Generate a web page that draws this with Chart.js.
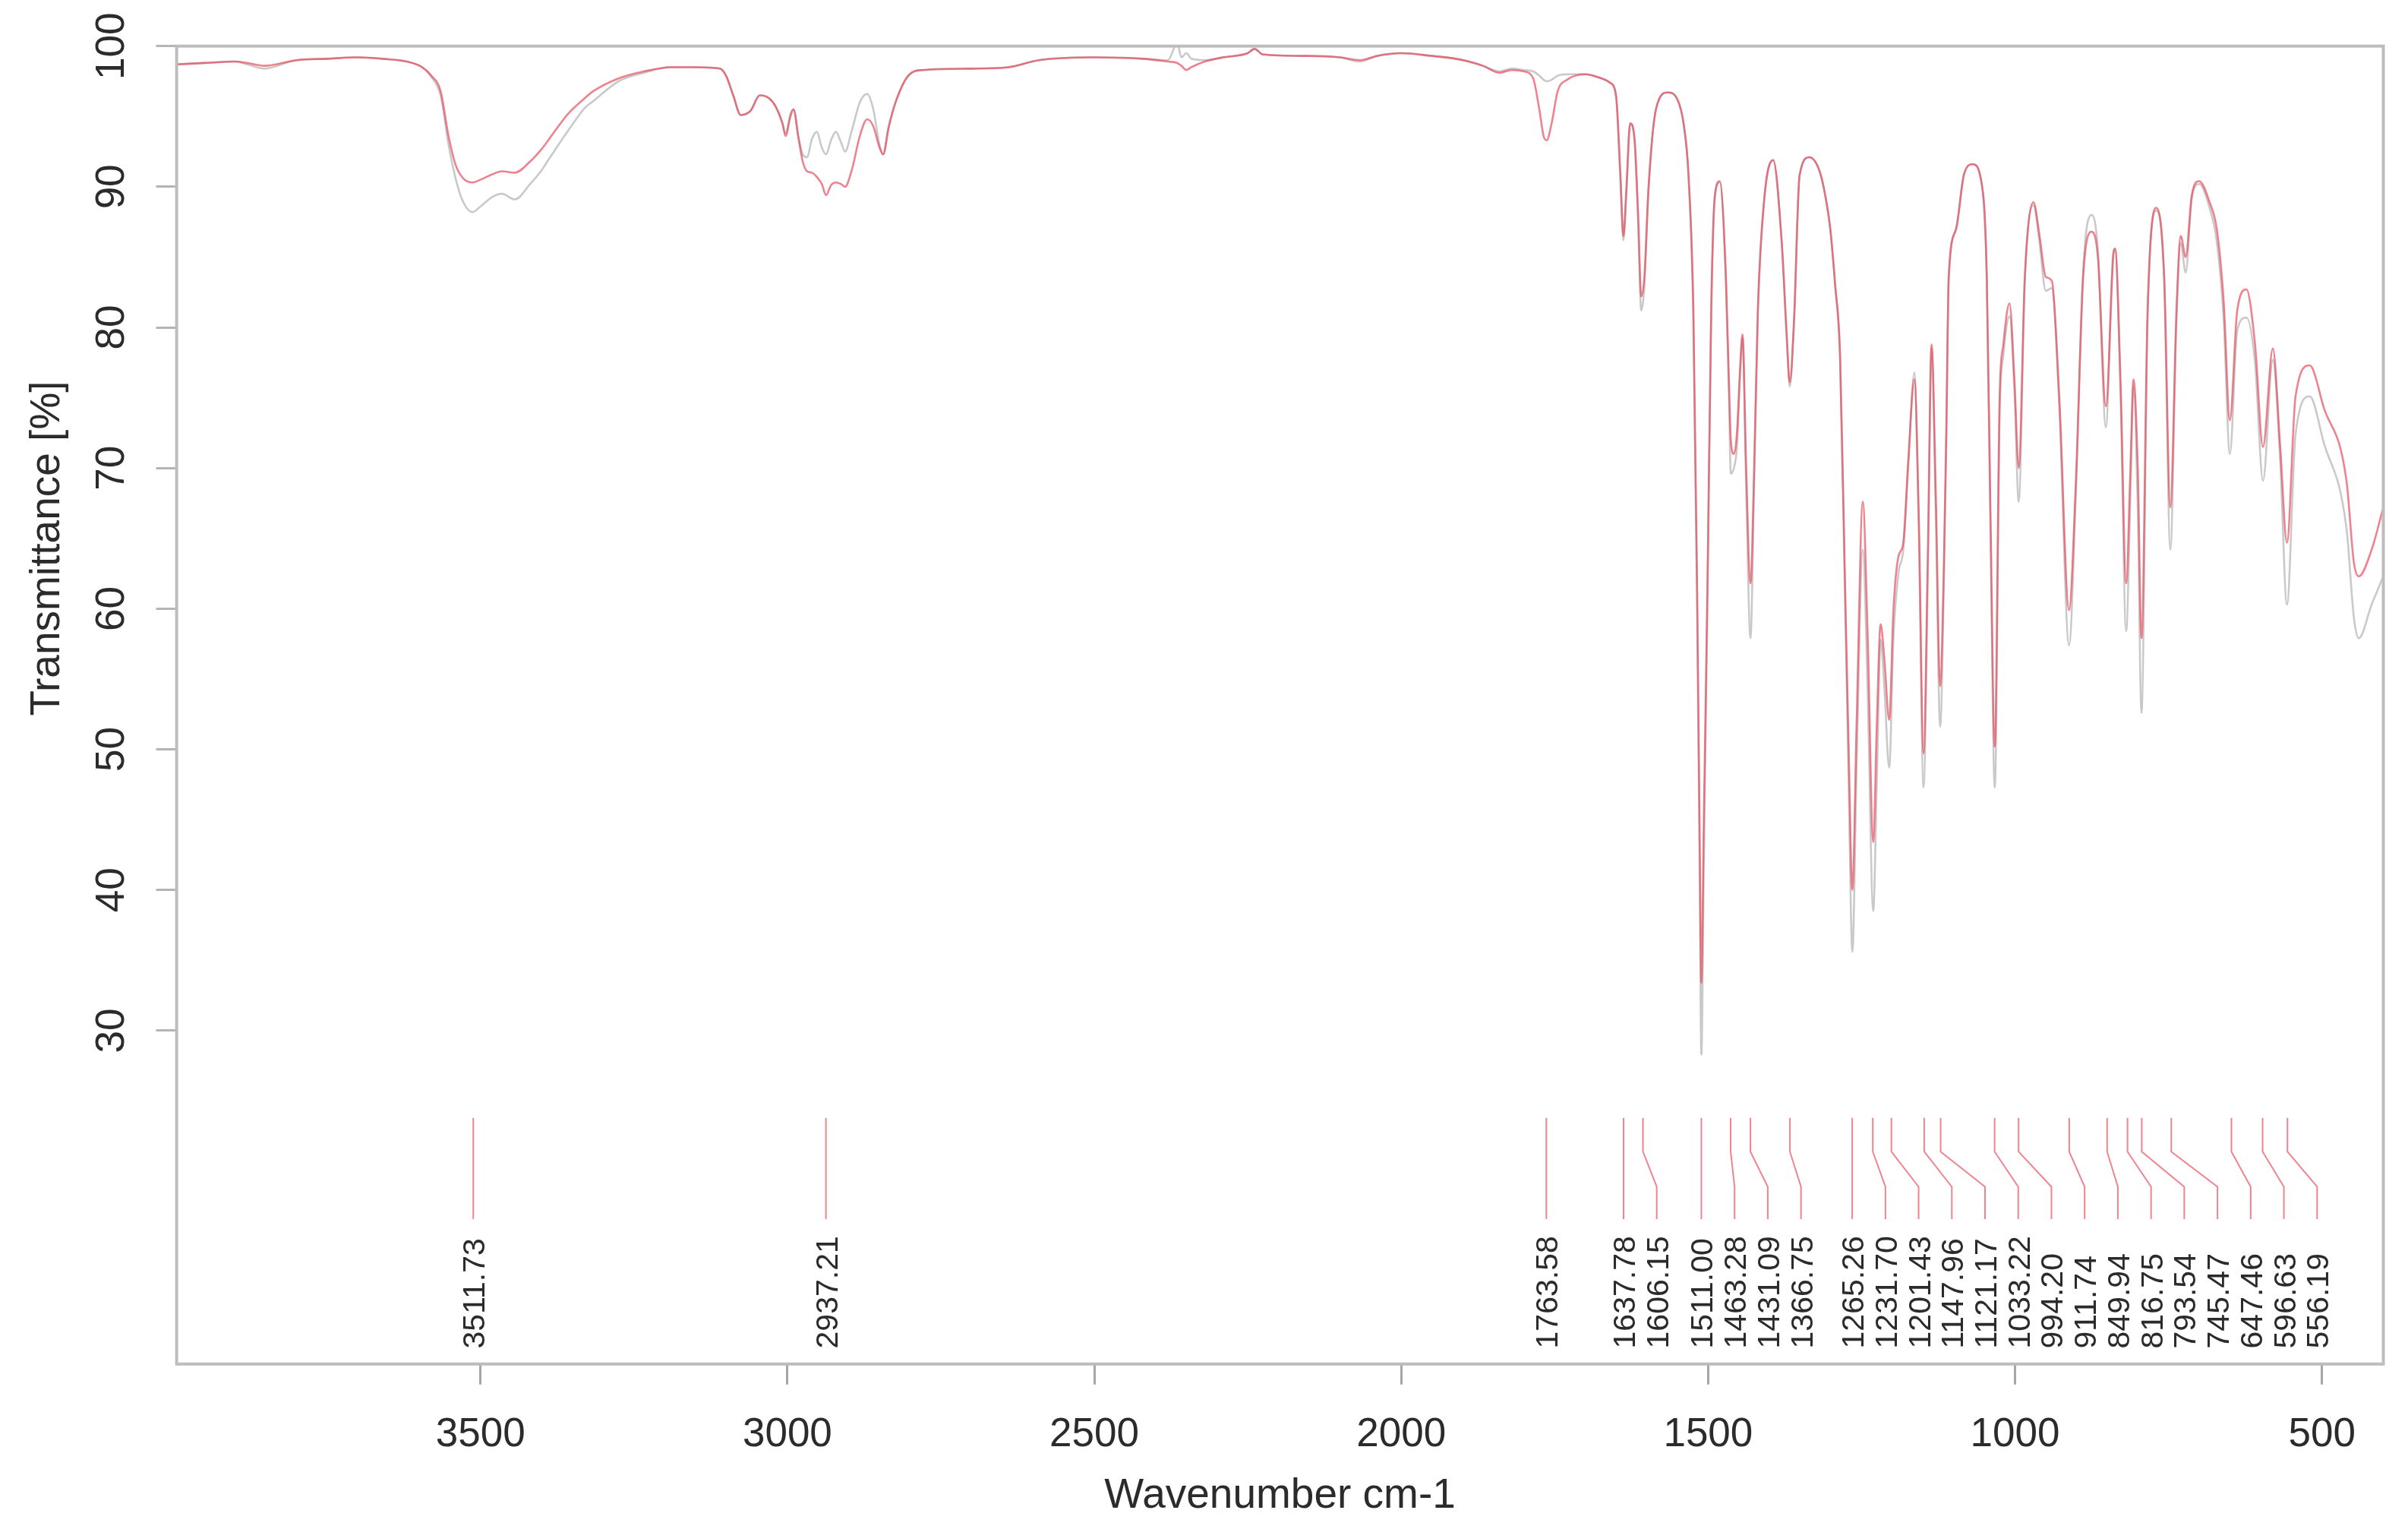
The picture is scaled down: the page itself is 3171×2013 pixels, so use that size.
<!DOCTYPE html>
<html>
<head>
<meta charset="utf-8">
<script src="https://cdn.jsdelivr.net/npm/chart.js@4"></script>
<style>
  html, body { margin: 0; padding: 0; background: #fff; }
  canvas { display: block; }
</style>
</head>
<body>
<canvas id="ir" width="3171" height="2013"></canvas>
<script>
// wavenumber grid (cm-1) with the two transmittance traces
const wavenumbers = [3995,3950,3900,3880,3852,3800,3750,3700,3660,3620,3595,3580,3565,3552,3540,3528,3513,3500,3480,3465,3444,3419,3400,3388,3357,3330,3316,3275,3234,3190,3150,3110,3100,3088,3076,3060,3045,3030,3019,3008,3003,2995,2990,2982,2975,2968,2960,2952,2944,2937,2929,2921,2913,2906,2895,2882,2870,2860,2850,2844,2835,2823,2803,2780,2700,2640,2590,2500,2420,2380,2365,2358,2350,2342,2320,2290,2250,2239,2225,2150,2100,2067,2040,2000,1950,1911,1890,1867,1840,1820,1800,1785,1775,1768,1763,1755,1745,1730,1700,1680,1660,1650,1643,1638,1633,1627,1620,1614,1609,1604,1597,1585,1566,1550,1540,1532,1524,1518,1514,1511,1507,1501,1495,1489,1481,1471,1466,1463,1458,1453,1448,1444,1438,1431,1425,1419,1408,1394,1380,1372,1367,1360,1351,1335,1320,1311,1301,1293,1285,1277,1271,1265,1258,1248,1240,1231,1225,1219,1213,1205,1198,1190,1182,1174,1164,1157,1149,1142,1136,1129,1122,1116,1112,1108,1096,1083,1069,1055,1046,1040,1033,1025,1019,1009,1001,994,984,970,960,950,940,928,912,901,889,875,865,852,840,837,828,819,812,807,800,794,784,770,757,747,737,730,722,712,700,683,671,660,650,638,623,609,596,580,568,557,543,520,497,460,448,440,419,400];

// red trace
const sampleT = [98.7,98.8,98.9,98.8,98.6,99.0,99.1,99.2,99.1,98.9,98.5,97.9,96.8,93.6,91.5,90.6,90.3,90.5,90.9,91.1,91.0,91.8,92.7,93.4,95.2,96.3,96.8,97.7,98.2,98.5,98.5,98.4,97.9,96.5,95.1,95.4,96.5,96.3,95.7,94.5,93.6,95.0,95.5,93.5,91.8,91.1,91.0,90.7,90.2,89.4,90.1,90.3,90.2,90.0,91.2,93.6,94.8,94.3,92.8,92.3,94.2,96.1,97.9,98.3,98.4,98.5,99.0,99.2,99.1,98.9,98.8,98.6,98.3,98.5,98.9,99.2,99.5,99.8,99.4,99.3,99.2,99.0,99.3,99.5,99.3,99.1,98.9,98.6,98.1,98.3,98.2,97.7,95.5,93.6,93.3,94.5,96.8,97.6,98.0,97.8,97.4,96.5,91.0,86.5,90.0,94.5,93.5,88.0,82.2,83.5,90.0,95.5,96.7,96.2,94.5,90.9,81.2,61.8,45.0,33.4,45.0,61.8,81.2,89.4,90.4,83.6,76.0,72.0,71.0,72.5,77.0,79.5,70.0,61.8,70.0,81.2,89.4,91.9,86.0,79.5,76.1,80.5,90.8,92.1,91.3,89.8,87.0,83.0,78.0,61.8,50.0,40.0,52.0,67.6,58.0,43.4,52.0,58.9,56.5,52.1,60.0,63.7,64.7,70.5,76.3,67.0,49.7,64.0,78.8,68.0,54.5,63.0,72.5,83.6,87.0,90.9,91.6,90.4,83.6,66.7,50.2,75.1,78.8,81.7,76.3,70.0,83.6,88.9,86.5,83.6,83.3,75.1,59.9,68.9,83.6,86.8,85.0,74.4,85.0,85.6,76.0,61.8,70.0,76.3,70.0,57.9,81.2,88.5,83.6,67.2,81.2,86.5,85.0,89.4,90.4,88.9,86.9,81.8,73.4,81.2,82.7,78.8,71.5,78.5,71.5,64.7,75.1,77.3,74.3,69.1,63.3,62.3,64.2,67.2];

// grey trace
const referenceT = [98.7,98.8,98.9,98.7,98.4,99.0,99.1,99.2,99.1,98.9,98.5,97.8,96.5,93.0,90.5,88.9,88.2,88.6,89.3,89.5,89.1,90.2,91.2,92.0,94.0,95.6,96.1,97.5,98.1,98.5,98.5,98.4,97.9,96.4,95.1,95.4,96.5,96.3,95.7,94.5,93.8,95.2,95.5,93.5,92.3,92.1,93.4,93.9,92.8,92.3,93.3,93.9,93.2,92.5,94.0,96.0,96.6,95.5,93.0,92.3,94.3,96.1,97.9,98.3,98.4,98.5,99.0,99.2,99.1,99.0,100.2,99.2,99.5,99.1,99.0,99.2,99.5,99.8,99.4,99.3,99.2,98.9,99.3,99.5,99.3,99.1,98.9,98.6,98.2,98.4,98.3,98.2,97.9,97.6,97.5,97.6,97.9,98.0,98.0,97.8,97.4,96.4,90.5,86.2,89.7,94.5,93.3,87.5,81.2,82.8,89.8,95.5,96.7,96.2,94.5,90.8,80.5,60.5,42.0,28.3,42.0,60.8,80.8,89.2,90.3,83.2,75.0,69.6,70.0,71.5,76.5,79.3,68.5,57.9,68.8,81.0,89.3,91.9,86.0,79.3,75.8,80.5,90.8,92.1,91.3,89.8,87.0,83.0,77.7,61.0,47.5,35.6,49.0,64.2,54.0,38.5,48.0,57.8,54.5,48.7,58.0,62.5,64.2,70.0,76.8,66.0,47.3,62.5,78.5,66.5,51.6,61.5,72.0,83.4,87.0,90.9,91.6,90.4,83.4,65.5,47.3,74.0,78.0,80.8,75.5,67.6,83.4,88.7,86.0,82.6,82.8,74.5,57.4,68.0,84.0,88.0,85.5,72.9,85.3,85.6,75.0,58.4,68.0,75.8,67.0,52.6,80.8,88.3,83.3,64.2,80.5,86.0,83.9,89.2,90.2,88.5,86.0,80.5,71.0,79.8,80.7,77.5,69.1,77.7,70.5,60.3,72.4,75.1,71.8,65.7,59.4,57.9,60.3,62.3];

// picked peaks
const peakPositions = [3511.73,2937.21,1763.58,1637.78,1606.15,1511.00,1463.28,1431.09,1366.75,1265.26,1231.70,1201.43,1147.96,1121.17,1033.22,994.20,911.74,849.94,816.75,793.54,745.47,647.46,596.63,556.19];

const xTickValues = [3500,3000,2500,2000,1500,1000,500];
const yTickValues = [30,40,50,60,70,80,90,100];

const W = 3171, H = 2013;
const AREA = {left: 232.6, right: 3138.5, top: 60.7, bottom: 1795.8};
const FONT = '"Liberation Sans", Arial, Helvetica, sans-serif';
const TEXT = '#2b2b2b';
const RED = 'rgba(228, 72, 88, 0.68)';
const GREY = '#c9c9c9';

// labels are pushed towards lower wavenumbers so they don't overlap
const LABEL_GAP = 54.1;
const labelPos = [];
peakPositions.forEach((p, i) => {
  labelPos.push(i === 0 ? p : Math.min(p, labelPos[i - 1] - LABEL_GAP));
});

const datasets = [
  {data: wavenumbers.map((w, i) => ({x: w, y: sampleT[i]})), borderColor: RED, borderWidth: 2.6},
  {data: wavenumbers.map((w, i) => ({x: w, y: referenceT[i]})), borderColor: GREY, borderWidth: 2.6}
];
peakPositions.forEach((p, i) => {
  datasets.push({
    data: [{x: p, y: 23.8}, {x: p, y: 21.4}, {x: labelPos[i], y: 18.9}, {x: labelPos[i], y: 16.6}],
    borderColor: 'rgba(232, 80, 95, 0.7)', borderWidth: 2, cubicInterpolationMode: 'default', tension: 0
  });
});

const textPlugin = {
  id: 'irText',
  afterDraw(chart) {
    const {ctx, chartArea: a} = chart;
    const xs = chart.scales.x, ys = chart.scales.y;
    ctx.save();
    // frame
    ctx.strokeStyle = '#bdbdbd';
    ctx.lineWidth = 4;
    ctx.strokeRect(a.left, a.top, a.right - a.left, a.bottom - a.top);

    ctx.fillStyle = TEXT;
    // x tick labels
    ctx.font = '53px ' + FONT;
    ctx.textAlign = 'center';
    ctx.textBaseline = 'alphabetic';
    xTickValues.forEach(v => ctx.fillText(String(v), xs.getPixelForValue(v), 1904));

    // y tick labels, rotated
    yTickValues.forEach(v => {
      ctx.save();
      ctx.translate(163, ys.getPixelForValue(v));
      ctx.rotate(-Math.PI / 2);
      ctx.fillText(String(v), 0, 0);
      ctx.restore();
    });

    // axis titles
    ctx.font = '55px ' + FONT;
    ctx.fillText('Wavenumber cm-1', (a.left + a.right) / 2, 1985);
    ctx.save();
    ctx.translate(78, 722);
    ctx.rotate(-Math.PI / 2);
    ctx.fillText('Transmittance [%]', 0, 0);
    ctx.restore();

    // peak labels
    ctx.font = '41px ' + FONT;
    ctx.textAlign = 'left';
    peakPositions.forEach((p, i) => {
      ctx.save();
      ctx.translate(xs.getPixelForValue(labelPos[i]) + 15, ys.getPixelForValue(7.4));
      ctx.rotate(-Math.PI / 2);
      ctx.fillText(p.toFixed(2), 0, 0);
      ctx.restore();
    });
    ctx.restore();
  }
};

new Chart(document.getElementById('ir').getContext('2d'), {
  type: 'line',
  data: {datasets},
  options: {
    responsive: false,
    animation: false,
    devicePixelRatio: 1,
    parsing: false,
    normalized: true,
    layout: {padding: {top: AREA.top, right: W - AREA.right, bottom: 0, left: 0}},
    elements: {point: {radius: 0}, line: {cubicInterpolationMode: 'monotone', fill: false}},
    plugins: {legend: {display: false}, tooltip: {enabled: false}},
    scales: {
      x: {
        type: 'linear', reverse: true, min: 400, max: 3995,
        ticks: {display: false, autoSkip: false},
        afterBuildTicks: s => { s.ticks = xTickValues.map(value => ({value})); },
        afterFit: s => { s.height = H - AREA.bottom; },
        grid: {drawOnChartArea: false, drawTicks: true, tickLength: 27, color: '#a6a6a6', lineWidth: 3},
        border: {display: false}
      },
      y: {
        type: 'linear', min: 6.3, max: 100,
        ticks: {display: false, autoSkip: false},
        afterBuildTicks: s => { s.ticks = yTickValues.map(value => ({value})); },
        afterFit: s => { s.width = AREA.left; },
        grid: {drawOnChartArea: false, drawTicks: true, tickLength: 27, color: '#b4b4b4', lineWidth: 3},
        border: {display: false}
      }
    }
  },
  plugins: [textPlugin]
});
</script>
</body>
</html>
